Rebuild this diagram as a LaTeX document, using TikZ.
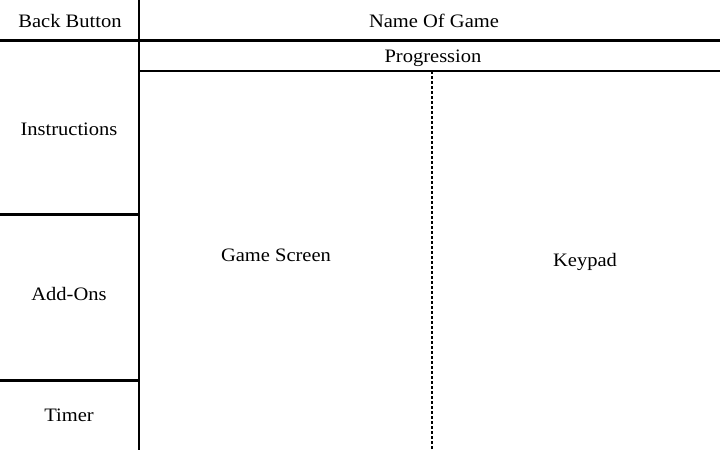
\documentclass[tikz,border=0pt]{standalone}
\usepackage{fontspec}
\setmainfont[FakeStretch=1.08]{Liberation Serif}
\begin{document}
\begin{tikzpicture}[x=1pt,y=-1pt,
  rule/.style={line width=2.6pt,black},
  dashrule/.style={line width=2.4pt,black,dash pattern=on 3pt off 2pt},
  lbl/.style={font=\fontsize{19}{22}\selectfont,inner sep=0pt,anchor=base}]
\useasboundingbox (0,0) rectangle (720,450);
% grid lines
\coordinate (vtop) at (139,0);
\coordinate (vbot) at (139,450);
\coordinate (h1l) at (0,40.5);
\coordinate (h1r) at (720,40.5);
\coordinate (h2l) at (139,71);
\coordinate (h2r) at (720,71);
\coordinate (h3l) at (0,214.5);
\coordinate (h3r) at (139,214.5);
\coordinate (h4l) at (0,380.5);
\coordinate (h4r) at (139,380.5);
\coordinate (dtop) at (432,71);
\coordinate (dbot) at (432,450);
\draw[rule] (vtop) -- (vbot);
\draw[rule] (h1l) -- (h1r);
\draw[rule] (h2l) -- (h2r);
\draw[rule] (h3l) -- (h3r);
\draw[rule] (h4l) -- (h4r);
\draw[dashrule] (dtop) -- (dbot);
% labels
\node[lbl] (back) at (70,27.5) {Back Button};
\node[lbl] (name) at (434,27.7) {Name Of Game};
\node[lbl] (prog) at (433,62) {Progression};
\node[lbl] (instr) at (69,135) {Instructions};
\node[lbl] (addons) at (69,300.5) {Add-Ons};
\node[lbl] (timer) at (69,421.5) {Timer};
\node[lbl] (game) at (276,261.7) {Game Screen};
\node[lbl] (keypad) at (585,266) {Keypad};
\end{tikzpicture}
\end{document}
